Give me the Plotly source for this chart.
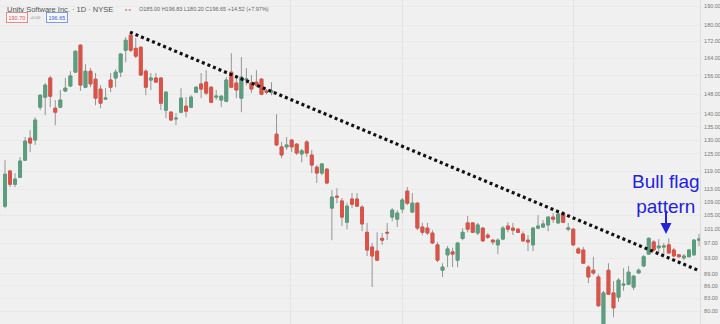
import plotly.graph_objects as go

# ---- data (daily candles, left to right) ----
opens = [107.8,119.1,114.7,117.0,122.8,130.7,130.0,142.7,146.8,155.0,142.3,142.7,149.4,151.5,157.6,170.1,151.0,158.0,154.5,150.2,
         146.0,154.1,155.0,157.6,167.7,175.0,168.6,169.1,158.0,154.1,155.0,155.0,141.5,140.7,138.0,140.7,143.1,142.7,148.9,152.4,
         153.2,151.0,146.8,145.6,145.1,157.6,152.8,146.4,154.1,152.8,153.2,154.5,149.4,148.9,132.2,127.5,127.5,130.0,128.5,125.0,
         129.3,124.6,120.4,118.4,119.7,107.2,110.9,109.4,103.0,110.0,110.0,107.5,100.1,96.0,94.9,98.4,100.1,104.5,103.9,106.9,
         112.5,106.0,108.7,101.6,101.3,99.9,96.6,89.9,93.9,94.7,92.5,98.4,102.8,102.8,99.9,101.3,99.3,97.9,96.6,98.2,
         101.9,101.3,101.0,99.6,97.9,96.6,101.3,101.6,102.2,104.5,102.8,105.7,101.0,101.0,95.5,95.2,90.7,89.9,88.2,77.0,
         89.9,84.3,83.3,86.2,86.4,85.7,89.2,91.0,94.1,97.4,95.8,96.0,96.6,95.2,93.9,93.1,93.4,93.9,97.9]
highs = [122.8,119.4,118.4,123.9,131.1,133.7,138.7,148.0,152.8,155.9,145.6,149.8,155.0,158.0,167.7,170.6,161.2,159.4,157.2,151.9,
         150.6,157.2,158.9,166.3,174.0,176.0,173.5,169.6,158.9,157.2,157.2,155.4,149.4,141.1,140.3,150.6,146.8,147.6,151.5,157.2,
         158.5,151.5,149.8,147.6,155.4,166.3,156.3,164.5,159.4,156.3,158.5,155.0,150.2,153.2,139.9,129.3,131.1,130.4,128.9,126.8,
         130.0,126.4,121.1,121.8,120.1,112.8,113.4,110.3,108.7,111.9,111.9,108.1,102.8,97.1,100.1,99.9,102.8,107.2,106.6,110.3,
         113.8,111.9,109.1,102.8,102.8,100.7,97.4,91.7,96.3,95.8,97.4,101.3,104.8,103.0,102.8,101.6,99.9,98.2,98.4,101.9,
         103.0,102.8,101.3,100.4,99.3,101.6,105.1,103.6,104.8,105.7,106.0,106.3,102.8,101.3,96.0,96.0,91.2,93.4,88.9,84.8,
         91.7,87.2,87.9,90.4,91.0,88.7,90.4,93.9,98.7,97.9,98.2,97.1,98.4,95.8,94.1,94.1,95.5,98.2,99.6]
lows = [107.2,113.8,113.8,116.7,122.5,125.7,128.2,141.5,139.5,142.7,135.6,142.3,148.9,151.0,157.2,149.4,150.6,151.0,143.5,142.3,
        145.6,148.9,151.0,155.4,162.1,166.8,164.0,155.9,147.6,149.8,152.8,141.5,138.3,137.2,135.6,140.3,138.7,142.3,148.5,146.4,
        147.6,144.3,145.6,142.7,144.7,150.6,146.4,140.7,151.9,148.5,151.0,147.6,148.0,147.6,127.8,123.5,126.4,125.7,124.6,122.1,
        123.9,118.4,115.1,117.7,114.7,97.9,108.7,101.9,101.0,107.2,107.5,100.4,93.6,85.7,92.3,96.6,97.9,103.3,101.6,105.7,
        108.1,105.7,100.7,99.3,99.3,96.8,92.0,88.2,90.7,90.7,90.7,97.9,100.1,99.9,99.3,97.4,98.2,96.6,94.1,97.9,
        100.1,99.3,99.9,97.4,94.9,94.9,101.0,101.3,100.4,102.8,102.5,102.8,100.4,96.3,94.1,91.5,86.7,88.7,81.0,76.5,
        83.8,78.7,82.2,84.8,86.2,85.0,89.2,90.7,93.9,94.7,94.4,94.1,94.1,93.4,93.1,92.5,93.4,93.6,96.3]
closes = [118.0,114.7,116.4,122.5,129.6,128.9,137.6,147.6,151.9,147.2,140.7,145.6,150.6,155.9,167.2,151.9,158.0,152.4,146.4,144.3,
          146.4,151.0,157.6,165.9,172.5,167.7,164.9,156.3,151.0,155.0,153.2,144.3,148.9,137.6,138.3,146.4,141.1,146.8,151.0,150.2,
          148.5,144.7,147.2,147.2,154.1,151.0,149.8,155.4,154.5,150.2,151.9,148.0,148.9,149.4,128.2,124.6,128.2,127.5,125.3,126.1,
          125.3,121.1,118.4,121.5,115.1,110.6,110.6,104.5,107.8,108.4,107.8,102.5,95.2,93.6,92.5,97.9,99.9,106.6,105.7,109.7,
          108.7,108.7,101.3,100.1,99.9,97.1,92.5,90.7,95.5,94.1,97.1,100.1,101.0,100.1,102.2,97.7,98.7,97.4,97.9,101.3,
          101.0,100.7,100.1,97.7,97.4,101.3,101.9,102.5,104.5,103.9,105.4,103.0,101.3,96.6,94.4,91.7,88.2,89.2,81.3,84.3,
          84.0,80.8,87.4,86.4,89.4,88.4,89.9,93.4,98.4,95.2,96.3,96.3,94.4,93.6,93.4,93.6,95.2,97.9,98.2]

days = list(range(len(opens)))

# hand-drawn trend line (day index, price)
trend_days = [24.85, 137.8]
trend_prices = [176.5, 89.9]

price_ticks = [190, 180, 172, 164, 156, 148, 140, 135, 130, 125, 119, 113, 109, 105, 101, 97, 93, 89, 86, 83, 80]
price_tick_text = [f"{v:.2f}" for v in price_ticks]
time_grid_days = [56.7, 79, 113]

title_text = "Unity Software Inc. · 1D · NYSE"
ohlc_text = "O185.00 H196.83 L180.20 C196.65 +14.52 (+7.97%)"
sell_box, spread_text, buy_box = "190.70", "+0.00", "196.65"
note_text = "Bull flag<br>pattern"

GREEN = "#5a9e7e"
RED = "#dd5246"
WICK = "#959595"
BG = "#f0f0f0"

fig = go.Figure()

# wicks (gray)
fig.add_trace(go.Candlestick(
    x=days, open=opens, high=highs, low=lows, close=closes,
    increasing=dict(line=dict(color=WICK, width=1), fillcolor=WICK),
    decreasing=dict(line=dict(color=WICK, width=1), fillcolor=WICK),
    whiskerwidth=0, showlegend=False, hoverinfo="skip"))

# coloured bodies on top
body_hi = [max(o, c) for o, c in zip(opens, closes)]
body_lo = [min(o, c) for o, c in zip(opens, closes)]
fig.add_trace(go.Candlestick(
    x=days, open=opens, high=body_hi, low=body_lo, close=closes,
    increasing=dict(line=dict(color=GREEN, width=1), fillcolor=GREEN),
    decreasing=dict(line=dict(color=RED, width=1), fillcolor=RED),
    whiskerwidth=0, showlegend=False))

fig.add_trace(go.Scatter(
    x=trend_days, y=trend_prices, mode="lines",
    line=dict(color="#111111", width=3.2, dash="3px,3px"),
    showlegend=False, hoverinfo="skip"))

W_PLOT = 700.0
H = 324.0

def px(xp):
    return xp / W_PLOT

def py(yp):
    return 1 - yp / H

ann = []
ann.append(dict(x=px(5), y=py(9), text=title_text, showarrow=False, xanchor="left", yanchor="middle",
                font=dict(size=7.5, color="#555555", family="Liberation Sans, Arial")))
ann.append(dict(x=px(123), y=py(9), text="● ●",
                showarrow=False, xanchor="left", yanchor="middle", font=dict(size=4, color="#e05a5a")))
ann.append(dict(x=px(137), y=py(9), text=ohlc_text, showarrow=False, xanchor="left", yanchor="middle",
                font=dict(size=5.5, color="#666666", family="Liberation Sans, Arial")))
ann.append(dict(x=px(16.5), y=py(17.5), text=sell_box, showarrow=False, xanchor="center", yanchor="middle",
                font=dict(size=5.5, color="#d9534f", family="Liberation Sans, Arial"),
                bordercolor="#e58b87", borderwidth=1, borderpad=1.5, bgcolor="#f7f7f7"))
ann.append(dict(x=px(35), y=py(17.5), text=spread_text, showarrow=False, xanchor="center", yanchor="middle",
                font=dict(size=4, color="#888888", family="Liberation Sans, Arial")))
ann.append(dict(x=px(56.5), y=py(17.5), text=buy_box, showarrow=False, xanchor="center", yanchor="middle",
                font=dict(size=5.5, color="#3a5fcd", family="Liberation Sans, Arial"),
                bordercolor="#7f9be0", borderwidth=1, borderpad=1.5, bgcolor="#f7f7f7"))
ann.append(dict(x=px(666), y=py(194), text=note_text, showarrow=False, xanchor="center", yanchor="middle",
                font=dict(size=19, color="#2323d9", family="Liberation Sans, Arial")))
ann.append(dict(x=px(666), y=py(234), ax=0, ay=-25, axref="pixel", ayref="pixel",
                text="", showarrow=True, arrowhead=2, arrowsize=1.1,
                arrowwidth=2, arrowcolor="#2323d9"))
for a in ann:
    a.setdefault("xref", "paper")
    a.setdefault("yref", "paper")

fig.update_layout(
    width=720, height=324,
    margin=dict(l=0, r=20, t=0, b=0),
    paper_bgcolor=BG, plot_bgcolor=BG,
    annotations=ann,
    boxmode="overlay",
    boxgap=0.18,
    xaxis=dict(range=[-0.994, 138.2], rangeslider=dict(visible=False), showticklabels=False,
               tickvals=time_grid_days, showgrid=True, gridcolor="#e3e3e3", gridwidth=1,
               zeroline=False, ticks="", fixedrange=True),
    yaxis=dict(type="log", range=[1.8876, 2.2863], side="right", tickvals=price_ticks,
               ticktext=price_tick_text, showgrid=True, gridcolor="#e9e9e9", gridwidth=1,
               tickfont=dict(size=5.5, color="#777777", family="Liberation Sans, Arial"),
               ticks="", showline=True, linecolor="#dcdcdc", linewidth=1, zeroline=False,
               ticklabelstandoff=2),
    font=dict(family="Liberation Sans, Arial"),
)

fig.write_html("out.html")
